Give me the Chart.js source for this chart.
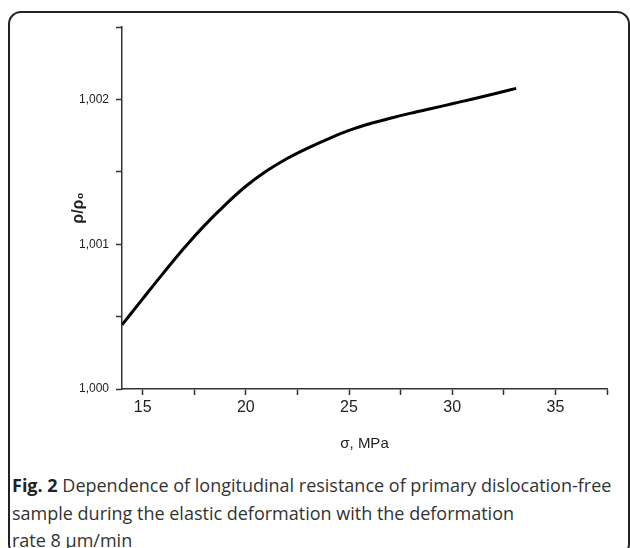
<!DOCTYPE html>
<html lang="en">
<head>
    <meta charset="UTF-8">
    <title>Fig. 2</title>
    <script src="https://cdn.jsdelivr.net/npm/chart.js"></script>
    <style>
        body { margin: 0; background: #fff; overflow: hidden; }
        #frame {
            position: absolute; left: 8px; top: 11px; width: 618px; height: 542px;
            border: 2px solid #222; border-radius: 13px;
        }
        #wrap { position: absolute; left: 0; top: 0; width: 630px; height: 460px; }
        #caption {
            position: absolute; left: 12px; top: 472px; width: 616px;
            font-family: "Open Sans", sans-serif; font-size: 18px; line-height: 27.5px;
            color: #333; white-space: nowrap;
        }
        #caption b { color: #222; }
    </style>
</head>
<body>
<div id="frame"></div>
<div id="wrap"><canvas id="chart" width="630" height="460"></canvas></div>
<div id="caption"><b>Fig. 2</b> Dependence of longitudinal resistance of primary dislocation-free<br>sample during the elastic deformation with the deformation<br>rate 8 μm/min</div>

<script>
    // sigma, MPa
    const sigma = [14, 15, 16, 17, 18, 19, 20, 21, 22, 23, 24, 25, 26, 27, 28, 29, 30, 31, 32, 33.1];
    // rho / rho0
    const rho = [1.000443, 1.000622, 1.000800, 1.000972, 1.001130, 1.001272, 1.001400, 1.001505,
                 1.001592, 1.001664, 1.001728, 1.001786, 1.001832, 1.001870, 1.001905, 1.001937,
                 1.001970, 1.002003, 1.002037, 1.002076];

    const xTicks = [15, 17.5, 20, 22.5, 25, 27.5, 30, 32.5, 35, 37.5];
    const xLabels = [15, 20, 25, 30, 35];
    const yTicks = [1.000, 1.0005, 1.001, 1.0015, 1.002, 1.0025];
    const yLabels = [1.000, 1.001, 1.002];

    const isLabel = (list, v) => list.some(l => Math.abs(l - v) < 1e-7);

    const ctx = document.getElementById('chart').getContext('2d');
    new Chart(ctx, {
        type: 'line',
        data: {
            datasets: [{
                data: sigma.map((s, i) => ({x: s, y: rho[i]})),
                borderColor: '#000',
                borderWidth: 3,
                pointRadius: 0,
                cubicInterpolationMode: 'monotone',
                fill: false
            }]
        },
        options: {
            responsive: false,
            animation: false,
            layout: { padding: { left: 0, right: 23, top: 27, bottom: 0 } },
            plugins: { legend: { display: false }, tooltip: { enabled: false } },
            scales: {
                x: {
                    type: 'linear',
                    min: 14,
                    max: 37.5,
                    afterBuildTicks: scale => { scale.ticks = xTicks.map(v => ({value: v})); },
                    afterFit: scale => { scale.height = 71; },
                    border: { color: '#333', width: 1.5 },
                    grid: { drawOnChartArea: false, tickLength: 6, tickColor: '#333', tickWidth: 1.5 },
                    ticks: {
                        padding: 3,
                        color: '#222',
                        font: { family: 'Liberation Sans', size: 16 },
                        callback: v => isLabel(xLabels, v) ? String(v) : ''
                    },
                    title: {
                        display: true,
                        text: 'σ, MPa',
                        color: '#222',
                        font: { family: 'Liberation Sans', size: 15 },
                        padding: { top: 0, bottom: 7 }
                    }
                },
                y: {
                    type: 'linear',
                    min: 1.000,
                    max: 1.0025,
                    afterBuildTicks: scale => { scale.ticks = yTicks.map(v => ({value: v})); },
                    afterFit: scale => { scale.width = 122; },
                    border: { color: '#333', width: 1.5 },
                    grid: { drawOnChartArea: false, tickLength: 6, tickColor: '#333', tickWidth: 1.5 },
                    ticks: {
                        padding: 7,
                        color: '#222',
                        font: { family: 'Liberation Sans', size: 12 },
                        callback: v => isLabel(yLabels, v) ? v.toFixed(3).replace('.', ',') : ''
                    },
                    title: {
                        display: true,
                        text: 'ρ/ρ₀',
                        color: '#222',
                        font: { family: 'Liberation Sans', size: 16, weight: 'bold' },
                        padding: { top: 69, bottom: 0 }
                    }
                }
            }
        }
    });
</script>
</body>
</html>
